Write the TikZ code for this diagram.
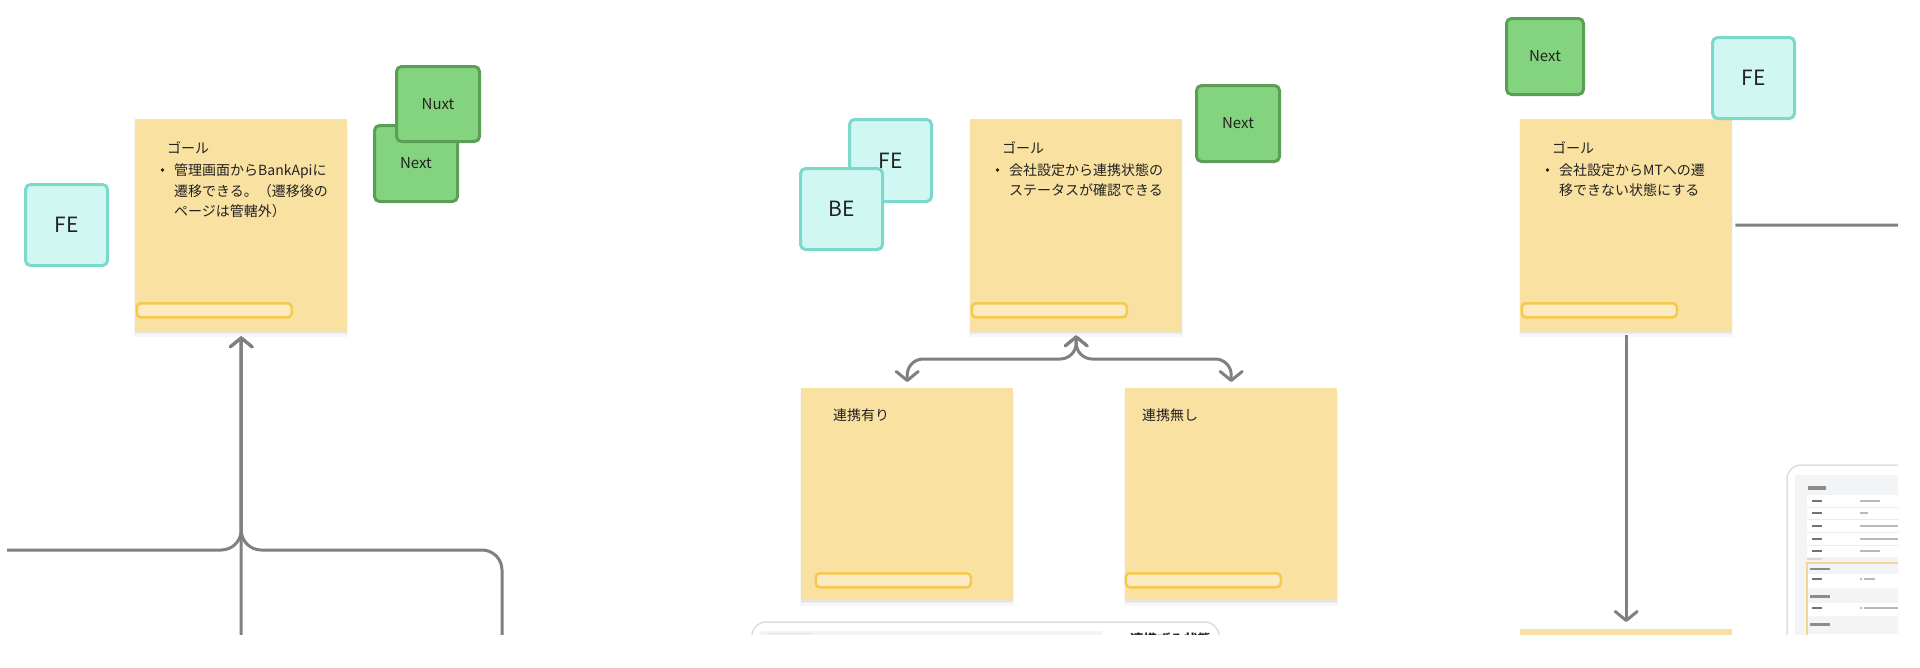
\documentclass[tikz,border=0pt]{standalone}
\usepackage{fontspec}
\setmainfont{Noto Sans CJK JP}
\usetikzlibrary{arrows.meta}
\definecolor{stickyfill}{HTML}{F9E1A1}
\definecolor{barfill}{HTML}{FCEBC2}
\definecolor{barline}{HTML}{F5C94E}
\definecolor{tealfill}{HTML}{D1F7F2}
\definecolor{tealline}{HTML}{7DD8CC}
\definecolor{greenfill}{HTML}{84D47F}
\definecolor{greenline}{HTML}{5B9F56}
\definecolor{linegray}{HTML}{808080}
\definecolor{txt}{HTML}{222222}
\definecolor{cardline}{HTML}{DEDEDE}
\definecolor{panelgray}{HTML}{F3F4F6}
\definecolor{frameyellow}{HTML}{F3D68F}
\definecolor{dotblue}{HTML}{4AA8E0}
\tikzset{
  sticky/.style={fill=stickyfill, draw=none, minimum width=212pt, minimum height=212pt, anchor=north west, inner sep=0pt},
  stickybar/.style={fill=barfill, draw=barline, line width=2.5pt, rounded corners=4pt, minimum width=155pt, minimum height=14pt, anchor=north west, inner sep=0pt},
  tealbox/.style={fill=tealfill, draw=tealline, line width=3pt, rounded corners=5pt, inner sep=0pt, text=txt, font=\fontsize{21}{24}\selectfont},
  greenbox/.style={fill=greenfill, draw=greenline, line width=3pt, rounded corners=5pt, inner sep=0pt, text=txt, font=\fontsize{15}{18}\selectfont},
  txtline/.style={anchor=base west, inner sep=0pt, text=txt, font=\fontsize{14}{21}\selectfont},
  bulletdot/.style={circle, fill=txt, inner sep=0pt, minimum size=3.6pt},
  conn/.style={draw=linegray, line width=3pt, -{Straight Barb[length=9pt,width=22pt,round]}},
  conntwo/.style={draw=linegray, line width=3pt, {Straight Barb[length=9pt,width=22pt,round]}-{Straight Barb[length=9pt,width=22pt,round]}},
  plainline/.style={draw=linegray, line width=3pt},
}
\newcommand\mysticky[3]{%
  \fill[black,opacity=.03] (#2-1,#3+4) rectangle (#2+213,#3+218);
  \fill[black,opacity=.04] (#2,#3+3) rectangle (#2+212,#3+215);
  \fill[black,opacity=.04] (#2,#3+2) rectangle (#2+212,#3+213.5);
  \node[sticky] (#1) at (#2,#3) {};}
\begin{document}
\begin{tikzpicture}[x=1pt,y=-1pt]
\useasboundingbox (0,0) rectangle (1920,667);
\fill[white] (0,0) rectangle (1920,667);
\begin{scope}
\clip (0,0) rectangle (1898,634);

% ---------------- stickies ----------------
\mysticky{s1}{135}{119}
\mysticky{s2}{970}{119}
\mysticky{s3}{801}{388}
\mysticky{s4}{1125}{388}
\mysticky{s5}{1520}{119}
\node[sticky] (s6) at (1520,629) {};

\node[stickybar] (b1) at (135.5,302) {};
\node[stickybar] (b2) at (970.5,302) {};
\node[stickybar] (b3) at (814.5,572) {};
\node[stickybar] (b4) at (1124.5,572) {};
\node[stickybar] (b5) at (1520.5,302) {};

% ---------------- connectors ----------------
\coordinate (l1) at (7,550);
\coordinate (m1) at (241,660);
\coordinate (r1) at (502,660);
\draw[conn] (m1) -- ([yshift=-5pt]s1.south);
\draw[conn, rounded corners=20pt] (l1) -- (l1 -| s1.south) -- ([yshift=-5pt]s1.south);
\draw[conn, rounded corners=20pt] (r1) -- (r1 |- l1) -- (l1 -| s1.south) -- ([yshift=-5pt]s1.south);

\coordinate (c2) at (1000,359);
\draw[conntwo, rounded corners=16pt] ([yshift=-4pt]s2.south) -- (s2.south |- c2) -- (c2 -| s3.north) -- ([yshift=6pt]s3.north);
\draw[conntwo, rounded corners=16pt] ([yshift=-4pt]s2.south) -- (s2.south |- c2) -- (c2 -| s4.north) -- ([yshift=6pt]s4.north);

\coordinate (e5) at (1910,225);
\draw[conn] ([yshift=-4pt]s5.south) -- ([yshift=7pt]s6.north);
\draw[plainline] ([xshift=3pt]s5.east) -- (e5);

% ---------------- sticky texts ----------------
\node[txtline] (g1a) at (167,153) {ゴール};
\node[bulletdot] (g1d) at (162.5,170) {};
\node[txtline] (g1b) at (174,175) {管理画面からBankApiに};
\node[txtline] (g1c) at (174,196) {遷移できる。（遷移後の};
\node[txtline] (g1e) at (174,216) {ページは管轄外）};

\node[txtline] (g2a) at (1002,153) {ゴール};
\node[bulletdot] (g2d) at (997.5,170) {};
\node[txtline] (g2b) at (1009,175) {会社設定から連携状態の};
\node[txtline] (g2c) at (1009,195) {ステータスが確認できる};

\node[txtline] (g3a) at (1552,153) {ゴール};
\node[bulletdot] (g3d) at (1547.5,170) {};
\node[txtline] (g3b) at (1559,175) {会社設定からMTへの遷};
\node[txtline] (g3c) at (1559,195) {移できない状態にする};

\node[txtline] (t3) at (833,420) {連携有り};
\node[txtline] (t4) at (1142,420) {連携無し};

% ---------------- tag boxes ----------------
\node[tealbox, minimum width=82pt, minimum height=81pt] (fe1) at (66.5,225) {FE};
\node[greenbox, minimum width=83pt, minimum height=76pt] (nx1) at (416,163.5) {Next};
\node[greenbox, minimum width=83pt, minimum height=75pt] (nu1) at (438,104) {Nuxt};

\node[tealbox, minimum width=82pt, minimum height=82pt] (fe2) at (890.5,160.5) {FE};
\node[tealbox, minimum width=82pt, minimum height=81pt] (be2) at (841.5,209) {BE};
\node[greenbox, minimum width=83pt, minimum height=76pt] (nx2) at (1238,123.5) {Next};

\node[greenbox, minimum width=77pt, minimum height=76pt] (nx3) at (1545,56.5) {Next};
\node[tealbox, minimum width=82pt, minimum height=81pt] (fe3) at (1753.5,78) {FE};

% ---------------- bottom card (panel 2) ----------------
\draw[cardline, fill=white, line width=1.5pt, rounded corners=14pt] (752,622) rectangle (1219,720);
\fill[panelgray] (760,631) rectangle (1103,720);
\fill[black!12] (769,632.5) rectangle (812,634);
\node[txtline, font=\fontsize{13.5}{16}\selectfont\bfseries] (cardtitle) at (1130,644) {連携ずみ状態};

% ---------------- screenshot card (panel 3) ----------------
\draw[cardline, fill=white, line width=1.5pt, rounded corners=14pt] (1787,465) rectangle (1990,720);
\fill[panelgray] (1795,475) rectangle (1990,720);
\fill[black!45] (1808,486) rectangle (1826,489.5);
\fill[white] (1807,495) rectangle (1990,557);
\foreach \yy in {507.5,519.5,532.5,545.5} \draw[black!8, line width=.6pt] (1807,\yy) -- (1990,\yy);
\foreach \yy/\ll in {501/1880,513/1868,526/1898,539/1898,551/1880} {
  \fill[black!55] (1812,\yy-1) rectangle (1822,\yy+1);
  \fill[black!28] (1860,\yy-1) rectangle (\ll,\yy+1);
}
\fill[black!15] (1807,557.5) rectangle (1822,559.5);
\fill[white] (1807,563) rectangle (1990,720);
\fill[panelgray] (1808,564) rectangle (1990,574);
\fill[panelgray] (1808,588) rectangle (1990,603);
\fill[panelgray] (1808,616) rectangle (1990,634);
\fill[black!45] (1810,567.5) rectangle (1830,570);
\fill[black!45] (1810,595) rectangle (1830,597.5);
\fill[black!45] (1810,623) rectangle (1830,625.5);
\fill[black!55] (1812,578) rectangle (1822,580);
\fill[black!55] (1812,607) rectangle (1822,609);
\fill[dotblue] (1861,579) circle (1);
\fill[dotblue] (1861,608) circle (1);
\fill[black!28] (1864,578) rectangle (1875,580);
\fill[black!28] (1864,607) rectangle (1898,609);
\draw[frameyellow, line width=1.5pt] (1807,563) rectangle (1990,720);
\end{scope}
\end{tikzpicture}
\end{document}
